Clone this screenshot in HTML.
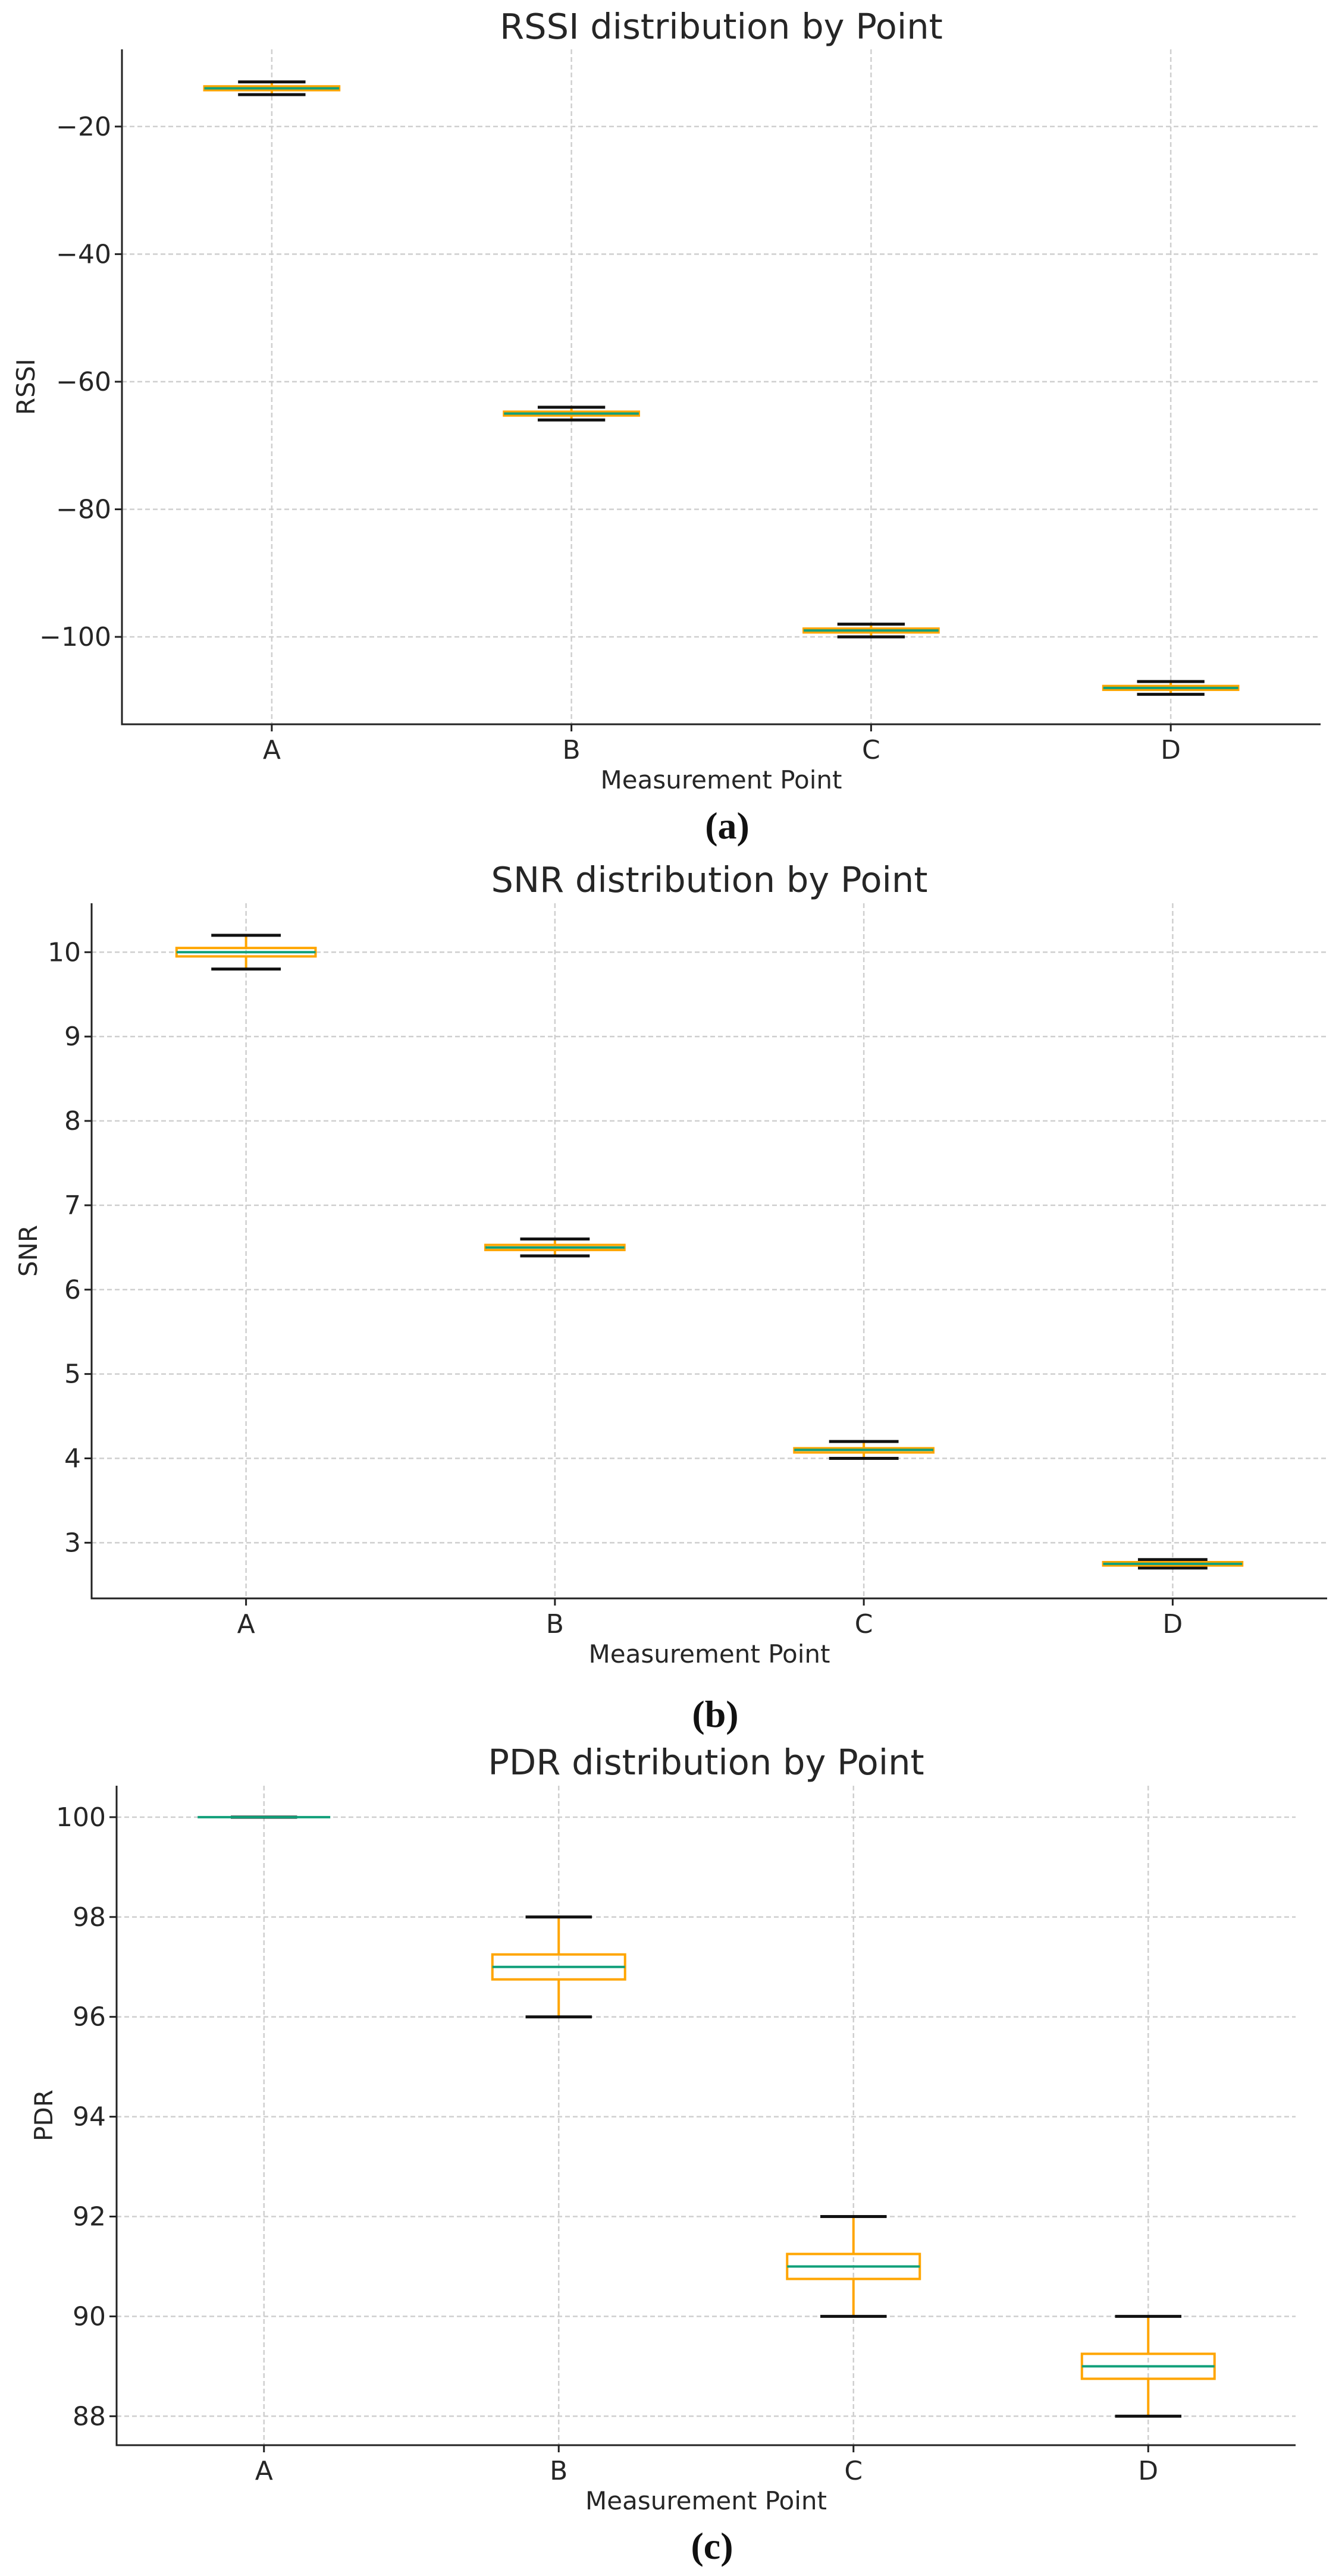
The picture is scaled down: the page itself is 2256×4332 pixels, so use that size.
<!DOCTYPE html>
<html><head><meta charset="utf-8"><style>
html,body{margin:0;padding:0;background:#fff;}
svg{display:block;font-family:"DejaVu Sans","Liberation Sans",sans-serif;}
</style></head><body>
<svg id="fig" width="2256" height="4332" viewBox="0 0 2256 4332" xmlns="http://www.w3.org/2000/svg"></svg>
<script>
// ---- data ----
const categories = ["A","B","C","D"];
// RSSI
const rssiMed = [-14,-65,-99,-108];
const rssiQ1 = [-14.3,-65.3,-99.3,-108.3];
const rssiQ3 = [-13.7,-64.7,-98.7,-107.7];
const rssiLo = [-15,-66,-100,-109];
const rssiHi = [-13,-64,-98,-107];
const rssiTicks = [-20,-40,-60,-80,-100];
// SNR
const snrMed = [10.0,6.5,4.1,2.75];
const snrQ1 = [9.95,6.47,4.07,2.73];
const snrQ3 = [10.05,6.53,4.12,2.77];
const snrLo = [9.8,6.4,4.0,2.7];
const snrHi = [10.2,6.6,4.2,2.8];
const snrTicks = [3,4,5,6,7,8,9,10];
// PDR
const pdrMed = [100,97,91,89];
const pdrQ1 = [100,96.75,90.75,88.75];
const pdrQ3 = [100,97.25,91.25,89.25];
const pdrLo = [100,96,90,88];
const pdrHi = [100,98,92,90];
const pdrTicks = [88,90,92,94,96,98,100];

const NS="http://www.w3.org/2000/svg";
const svg=document.getElementById('fig');
function mk(tag,attrs,parent){const e=document.createElementNS(NS,tag);for(const k in attrs)e.setAttribute(k,attrs[k]);(parent||svg).appendChild(e);return e;}

function chart(cfg){
  const g=mk('g',{});
  
  
  const {L,R,T,B,vTop,vBot}=cfg;
  const y=v=>T+(vTop-v)/(vTop-vBot)*(B-T);
  const step=(R-L)/categories.length;
  const x=i=>L+step*(i+0.5);
  const bw=step*0.45, cw=step*0.225;
  cfg.ticks.forEach(t=>{
    const gl=mk('line',{x1:L,x2:R,y1:y(t),y2:y(t),stroke:'#cfcfcf','stroke-width':2.5,'stroke-dasharray':'8,5'},g);
    
    
    const tk=mk('line',{x1:L-12,x2:L,y1:y(t),y2:y(t),stroke:'#222','stroke-width':3},g);
    
    
    const tl=mk('text',{x:L-18,y:y(t)+15,'text-anchor':'end','font-size':44,fill:'#262626'},g);
    tl.textContent=(t<0?'\u2212'+(-t):String(t));
    
    
  });
  categories.forEach((c,i)=>{
    const gl=mk('line',{x1:x(i),x2:x(i),y1:T,y2:B,stroke:'#cfcfcf','stroke-width':2.5,'stroke-dasharray':'8,5'},g);
    
    
    const tk=mk('line',{x1:x(i),x2:x(i),y1:B,y2:B+12,stroke:'#222','stroke-width':3},g);
    
    
    const tl=mk('text',{x:x(i),y:B+58,'text-anchor':'middle','font-size':44,fill:'#262626'},g);
    tl.textContent=c;
    
    
  });
  categories.forEach((c,i)=>{
    const bg=mk('g',{},g);
    
    
    const cx=x(i);
    mk('line',{x1:cx,x2:cx,y1:y(cfg.hi[i]),y2:y(cfg.q3[i]),stroke:'#FFA500','stroke-width':4},bg);
    mk('line',{x1:cx,x2:cx,y1:y(cfg.q1[i]),y2:y(cfg.lo[i]),stroke:'#FFA500','stroke-width':4},bg);
    mk('line',{x1:cx-cw/2,x2:cx+cw/2,y1:y(cfg.hi[i]),y2:y(cfg.hi[i]),stroke:'#111','stroke-width':5},bg);
    mk('line',{x1:cx-cw/2,x2:cx+cw/2,y1:y(cfg.lo[i]),y2:y(cfg.lo[i]),stroke:'#111','stroke-width':5},bg);
    const h=Math.max(y(cfg.q1[i])-y(cfg.q3[i]),0);
    mk('rect',{x:cx-bw/2,y:y(cfg.q3[i]),width:bw,height:h,fill:'none',stroke:'#FFA500','stroke-width':4},bg);
    mk('line',{x1:cx-bw/2,x2:cx+bw/2,y1:y(cfg.med[i]),y2:y(cfg.med[i]),stroke:'#11a07a','stroke-width':4},bg);
  });
  const sp1=mk('line',{x1:L,x2:L,y1:T,y2:B+1.5,stroke:'#222','stroke-width':3},g);
  
  
  const sp2=mk('line',{x1:L-1.5,x2:R,y1:B,y2:B,stroke:'#222','stroke-width':3},g);
  
  
  const tt=mk('text',{x:(L+R)/2,y:cfg.titleY,'text-anchor':'middle','font-size':59,fill:'#262626'},g);
  tt.textContent=cfg.title;
  
  
  const xl=mk('text',{x:(L+R)/2,y:B+108,'text-anchor':'middle','font-size':42,fill:'#262626'},g);
  xl.textContent='Measurement Point';
  
  
  const yl=mk('text',{x:cfg.ylX,y:(T+B)/2,'text-anchor':'middle','font-size':42,fill:'#262626',transform:`rotate(-90 ${cfg.ylX} ${(T+B)/2})`},g);
  yl.textContent=cfg.ylabel;
  
  
  const cap=mk('text',{x:(L+R)/2+10,y:cfg.capY,'text-anchor':'middle','font-size':64,'font-weight':'bold',fill:'#111','font-family':'"Liberation Serif","DejaVu Serif",serif'},g);
  cap.textContent=cfg.cap;
  
  
}

chart({key:'rssi',L:205,R:2220,T:83,B:1218,vTop:-7.9,vBot:-113.7,ticks:rssiTicks,
  med:rssiMed,q1:rssiQ1,q3:rssiQ3,lo:rssiLo,hi:rssiHi,title:'RSSI distribution by Point',
  ylabel:'RSSI',ylX:58,titleY:65,capY:1410,cap:'(a)'});
chart({key:'snr',L:154,R:2231,T:1519,B:2688,vTop:10.58,vBot:2.34,ticks:snrTicks,
  med:snrMed,q1:snrQ1,q3:snrQ3,lo:snrLo,hi:snrHi,title:'SNR distribution by Point',
  ylabel:'SNR',ylX:62,titleY:1500,capY:2904,cap:'(b)'});
chart({key:'pdr',L:196,R:2178,T:3003,B:4112,vTop:100.63,vBot:87.42,ticks:pdrTicks,
  med:pdrMed,q1:pdrQ1,q3:pdrQ3,lo:pdrLo,hi:pdrHi,title:'PDR distribution by Point',
  ylabel:'PDR',ylX:88,titleY:2984,capY:4303,cap:'(c)'});
</script>
</body></html>
